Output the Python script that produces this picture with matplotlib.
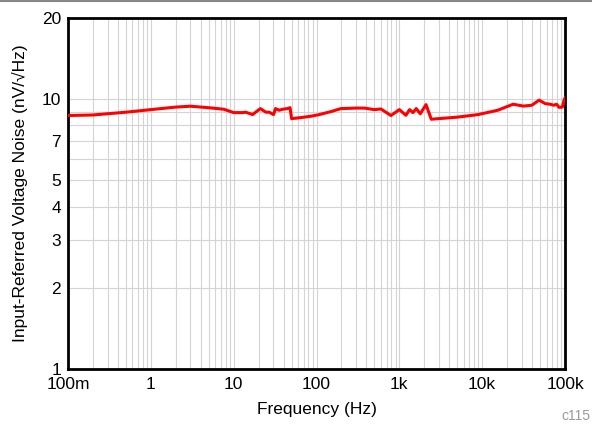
import matplotlib
matplotlib.use("Agg")
import matplotlib.pyplot as plt
from matplotlib.lines import Line2D
from matplotlib.ticker import FixedLocator, NullFormatter, LogLocator

plt.rcParams['font.family'] = ['Liberation Sans', 'DejaVu Sans']

# noise curve (Hz, nV/rtHz)
freq = [0.1, 0.2, 0.5, 1.0, 2.0, 3.0, 5.0, 7.6, 10, 12.8, 14, 16.9, 21, 24.5, 26.9,
        30.3, 32, 35.4, 39, 44.6, 48, 50, 65, 86, 108, 150, 197, 300, 377, 498,
        600, 792, 1000, 1200, 1330, 1460, 1600, 1790, 2100, 2430, 5000, 8900,
        15400, 23600, 31500, 39800, 48700, 57800, 66500, 73300, 79200, 84700,
        93000, 97800, 100000]
noise = [8.70, 8.74, 8.95, 9.15, 9.35, 9.42, 9.30, 9.18, 8.92, 8.92, 8.95, 8.77,
         9.23, 8.95, 8.95, 8.77, 9.23, 9.10, 9.18, 9.23, 9.30, 8.47, 8.55, 8.65,
         8.77, 9.00, 9.23, 9.27, 9.27, 9.15, 9.20, 8.70, 9.15, 8.72, 9.15, 8.92,
         9.23, 8.83, 9.55, 8.43, 8.58, 8.77, 9.10, 9.58, 9.43, 9.50, 9.92, 9.63,
         9.58, 9.50, 9.58, 9.33, 9.35, 9.97, 10.1]

xticks = [0.1, 1, 10, 100, 1e3, 1e4, 1e5]
xlabels = ["100m", "1", "10", "100", "1k", "10k", "100k"]
yticks = [1, 2, 3, 4, 5, 7, 10, 20]
ylabels = ["1", "2", "3", "4", "5", "7", "10", "20"]

fig = plt.figure(figsize=(5.92, 4.28), dpi=100)
ax = fig.add_axes([68 / 592, 59 / 428, 497 / 592, 351 / 428])

ax.set_xscale("log")
ax.set_yscale("log")
ax.set_xlim(0.1, 1e5)
ax.set_ylim(1, 20)

ax.plot(freq, noise, color="#ff0000", lw=2.2, solid_joinstyle="round", zorder=3)

ax.xaxis.set_major_locator(FixedLocator(xticks))
ax.xaxis.set_minor_locator(LogLocator(base=10, subs=range(2, 10), numticks=20))
ax.xaxis.set_minor_formatter(NullFormatter())
ax.set_xticklabels(xlabels)
ax.yaxis.set_major_locator(FixedLocator(yticks))
ax.yaxis.set_minor_locator(LogLocator(base=10, subs=range(2, 10), numticks=20))
ax.yaxis.set_minor_formatter(NullFormatter())
ax.set_yticklabels(ylabels)

ax.grid(True, which="both", color="#d4d4d4", lw=0.8, zorder=0)
ax.tick_params(which="both", length=0, labelsize=12.5)
ax.tick_params(axis="x", pad=6)
ax.tick_params(axis="y", pad=5)
for s in ax.spines.values():
    s.set_linewidth(2)
    s.set_color("black")

ax.set_xlabel("Frequency (Hz)", fontsize=12.5, labelpad=7)
ax.set_ylabel("Input-Referred Voltage Noise (nV/\u221aHz)", fontsize=12.5, labelpad=10)

fig.text(590 / 592, 12 / 428, "c115", color="#999999", fontsize=10, ha="right", va="center")
fig.add_artist(Line2D([0, 1], [0.997, 0.997], color="#888888", lw=1.5,
                      transform=fig.transFigure))

fig.savefig("out.png", dpi=100)
